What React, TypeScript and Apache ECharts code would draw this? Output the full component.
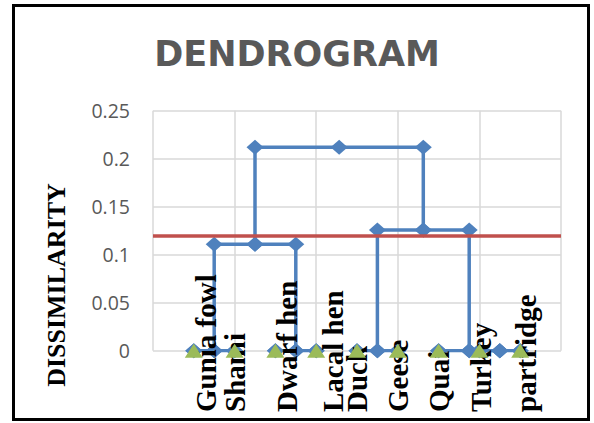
import React, { useEffect, useRef } from "react";
import * as echarts from "echarts";

// Leaves of the dendrogram (x positions 1..9 on the value axis)
const leafNames = ["Gunia fowl", "Shami", "Dwarf hen", "Lacal hen", "Duck", "Geese", "Quai", "Turkey", "partridge"];
const leafX = [1, 2, 3, 4, 5, 6, 7, 8, 9];
const leafY = [0, 0, 0, 0, 0, 0, 0, 0, 0];

// Merges (links) of the dendrogram
const mergeLeftX = [1, 3, 5, 8, 7, 1.5, 5.5, 2.5];
const mergeRightX = [2, 4, 6, 9, 8.5, 3.5, 7.75, 6.625];
const mergeLeftH = [0, 0, 0, 0, 0, 0, 0, 0.111];
const mergeRightH = [0, 0, 0, 0, 0, 0, 0, 0.1257];
const mergeHeight = [0, 0, 0, 0, 0, 0.111, 0.1257, 0.212];

// Cut line (truncation)
const cutHeight = 0.1188;

// Axis ticks
const yTicks = [0, 0.05, 0.1, 0.15, 0.2, 0.25];
const xRange = [0, 10];

// label nudges (style only)
const LABEL_NUDGE = [12, 0, 12, 17, 0, 0, 0, 2, 6];

const BLUE = "#4F81BD";
const RED = "#C0504D";
const GREEN = "#9BBB59";

export default function App() {
  const ref = useRef<HTMLDivElement>(null);
  useEffect(() => {
    document.body.style.margin = "0";
    const chart = echarts.init(ref.current!, null, { renderer: "svg" });
    const triW = 18, triH = 14;

    const blueSeries = mergeLeftX.map((lx, i) => {
      const rx = mergeRightX[i];
      const h = mergeHeight[i];
      return {
        type: "line",
        data: [
          [lx, mergeLeftH[i]],
          [lx, h],
          [(lx + rx) / 2, h],
          [rx, h],
          [rx, mergeRightH[i]],
        ],
        symbol: "diamond",
        symbolSize: [17, 15],
        showAllSymbol: true,
        lineStyle: { color: BLUE, width: 3.5 },
        itemStyle: { color: BLUE, borderWidth: 0 },
        silent: true,
        z: 2,
      };
    });

    const option: any = {
      animation: false,
      backgroundColor: "#ffffff",
      title: {
        text: "DENDROGRAM",
        left: "center",
        top: 31,
        textStyle: {
          fontFamily: "DejaVu Sans",
          fontWeight: "bold",
          fontSize: 35,
          color: "#595959",
        },
      },
      grid: { left: 153, right: 33, top: 110.7, bottom: 72.3, containLabel: false },
      xAxis: {
        type: "value",
        min: xRange[0],
        max: xRange[1],
        interval: 2,
        axisLine: { show: false },
        axisTick: { show: false },
        axisLabel: { show: false },
        splitLine: { show: true, lineStyle: { color: "#D9D9D9", width: 1.5 } },
      },
      yAxis: {
        type: "value",
        min: yTicks[0],
        max: yTicks[yTicks.length - 1],
        interval: 0.05,
        axisLine: { show: false },
        axisTick: { show: false },
        axisLabel: {
          margin: 23,
          fontFamily: "Open Sans",
          fontSize: 19.5,
          color: "#595959",
          formatter: (v: number) => String(Math.round(v * 100) / 100),
        },
        splitLine: { show: true, lineStyle: { color: "#D9D9D9", width: 1.5 } },
      },
      graphic: [
        {
          type: "rect",
          shape: { x: 13.5, y: 5.5, width: 575, height: 414 },
          style: { fill: "none", stroke: "#000000", lineWidth: 3 },
          silent: true,
          z: 100,
        },
        {
          type: "text",
          x: 56,
          y: 285,
          rotation: Math.PI / 2,
          style: {
            text: "DISSIMILARITY",
            fontFamily: "Liberation Serif",
            fontWeight: "bold",
            fontSize: 26,
            fill: "#000000",
            align: "center",
            verticalAlign: "middle",
          },
        },
      ],
      series: [
        ...blueSeries,
        {
          type: "line",
          data: [],
          silent: true,
          z: 3,
          markLine: {
            silent: true,
            symbol: "none",
            label: { show: false },
            lineStyle: { color: RED, width: 3.5, type: "solid" },
            data: [{ yAxis: cutHeight }],
          },
        },
        {
          // leaf labels
          type: "scatter",
          symbol: "rect",
          symbolSize: [triW, triH],
          itemStyle: { color: "rgba(0,0,0,0)", borderWidth: 0, opacity: 1 },
          z: 4,
          silent: true,
          data: leafX.map((x, i) => ({
            value: [x, leafY[i]],
            name: leafNames[i],
            label: {
              show: true,
              formatter: leafNames[i],
              rotate: 90,
              position: [triW / 2 + LABEL_NUDGE[i], triH / 2 + 61.3],
              align: "left",
              verticalAlign: "middle",
              fontFamily: "Liberation Serif",
              fontWeight: "bold",
              fontSize: 29,
              color: "#000000",
            },
          })),
        },
        {
          // leaf markers
          type: "scatter",
          symbol: "triangle",
          symbolSize: [triW, triH],
          itemStyle: { color: GREEN, borderWidth: 0, opacity: 1 },
          z: 5,
          silent: true,
          data: leafX.map((x, i) => [x, leafY[i]]),
        },
      ],
    };
    chart.setOption(option);
    return () => chart.dispose();
  }, []);
  return <div ref={ref} style={{ width: 594, height: 423 }} />;
}
